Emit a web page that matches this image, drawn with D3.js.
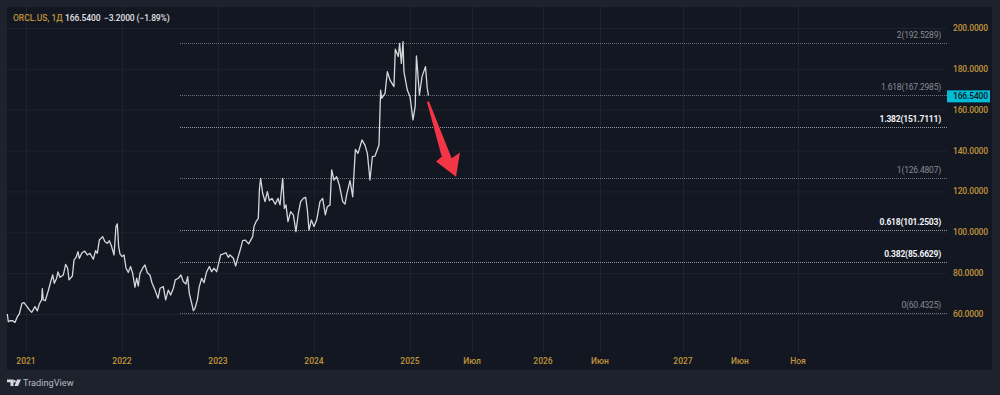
<!DOCTYPE html>
<html><head><meta charset="utf-8">
<script src="https://cdn.jsdelivr.net/npm/d3@7"></script>
<style>html,body{margin:0;padding:0;background:#1e222d;overflow:hidden}svg{display:block}text{font-family:Roboto,"Open Sans",sans-serif}</style>
</head><body><svg id="c" width="1000" height="395"></svg>
<script>
const years = [2020.805,2020.816,2020.833,2020.861,2020.885,2020.91,2020.93,2020.958,2020.979,2021.007,2021.035,2021.059,2021.094,2021.118,2021.139,2021.163,2021.17,2021.18,2021.201,2021.232,2021.257,2021.278,2021.295,2021.319,2021.333,2021.354,2021.389,2021.413,2021.434,2021.448,2021.483,2021.5,2021.521,2021.542,2021.555,2021.58,2021.611,2021.639,2021.666,2021.701,2021.725,2021.743,2021.764,2021.798,2021.823,2021.847,2021.868,2021.892,2021.917,2021.937,2021.951,2021.965,2021.979,2022,2022.021,2022.042,2022.066,2022.09,2022.111,2022.135,2022.153,2022.17,2022.187,2022.215,2022.239,2022.264,2022.291,2022.312,2022.344,2022.375,2022.396,2022.43,2022.455,2022.482,2022.507,2022.535,2022.555,2022.587,2022.614,2022.639,2022.666,2022.684,2022.701,2022.726,2022.743,2022.76,2022.785,2022.805,2022.83,2022.854,2022.882,2022.91,2022.934,2022.958,2022.986,2023.007,2023.028,2023.056,2023.083,2023.108,2023.125,2023.16,2023.184,2023.205,2023.236,2023.257,2023.285,2023.319,2023.361,2023.375,2023.396,2023.42,2023.431,2023.444,2023.465,2023.49,2023.514,2023.535,2023.562,2023.597,2023.625,2023.646,2023.674,2023.691,2023.708,2023.729,2023.757,2023.785,2023.812,2023.837,2023.861,2023.889,2023.913,2023.931,2023.948,2023.972,2024,2024.028,2024.062,2024.09,2024.118,2024.139,2024.167,2024.184,2024.208,2024.236,2024.264,2024.299,2024.323,2024.34,2024.375,2024.403,2024.431,2024.458,2024.5,2024.531,2024.556,2024.583,2024.608,2024.635,2024.677,2024.694,2024.705,2024.74,2024.764,2024.792,2024.833,2024.847,2024.878,2024.892,2024.91,2024.927,2024.937,2024.972,2025,2025.024,2025.042,2025.052,2025.063,2025.076,2025.097,2025.125,2025.139,2025.149];
const closes = [60,56.2,56.7,56.7,55.9,58.7,60,65.2,65.6,63.9,62,60.8,63.6,61.5,64.9,66.9,72.4,66.9,66.5,71.4,75.8,79.1,75,77.5,80.6,78,79.1,84.3,82.4,76.7,78.6,86.4,87.7,90.5,87.2,89.7,90.8,88.9,89.7,86.8,91,89.7,96.2,97.9,95.4,94.6,95.9,93,88.9,102.8,104.1,93,89.4,88.1,88.9,82.4,80.4,83.2,79.9,73.1,77.5,73.7,79.9,82.4,84,80.2,79.1,75.3,71.7,67.7,72.6,73.4,66.9,71.7,69.3,72.6,76.7,77.5,79.1,75.8,74.7,78.3,70.1,65.2,61.6,62.8,66.9,73.4,77.5,75.3,80.7,83.2,80.7,82.4,80.7,84.8,88.9,89.4,90,87.7,88.9,87.3,83.5,87.2,92.1,95.9,96.2,94.3,97.9,102.8,105.2,106.8,120.7,126.4,119.1,115,119.9,115.5,116.6,113.7,116.6,113.4,126.4,111.7,113.4,105.2,110.1,108.5,100.3,109.3,115,116.6,117.1,110.9,101.1,106,102.8,106,115,116.6,108.5,112.5,113.4,130.5,125.6,127.2,123.1,115,113.8,118.3,125.3,117.4,140.6,138.6,145.2,142.7,138.6,125.6,137,137.3,142.7,169.6,165.6,168,178.6,174.5,171.3,189.6,186,192.5,182.7,193.3,178.6,169.6,166.4,155,161.8,186.3,177.8,167.2,176.2,181.1,170.5,166.9];
const priceTicks = [200,180,160,140,120,100,80,60];
const timeTickYears = [2021,2022,2023,2024,2025,2025.5,2026,2026.42,2027,2027.42,2027.83];
const timeTickLabels = ["2021","2022","2023","2024","2025","Июл","2026","Июн","2027","Июн","Ноя"];
const fibRatios = ["2","1.618","1.382","1","0.618","0.382","0"];
const fibPrices = [192.5289,167.2985,151.7111,126.4807,101.2503,85.6629,60.4325];
const fibStrong = [false,false,true,false,true,true,false];
const arrowYears = [2025.137,2025.153,2025.336,2025.403,2025.371,2025.21,2025.256];
const arrowPrices = [163.8,164.1,136.2,139,127.2,134.6,137];
const lastPrice = 166.54;

const svg = d3.select("#c");
const x = d3.scaleLinear().domain([2021,2025,2025.5,2026,2026.42,2027,2027.42,2027.83]).range([26,410,472,543,600,683,740,798]);
const y = d3.scaleLinear().domain([60,200]).range([314,28]);
const gold = "#c0953a";

svg.append("rect").attr("width",1000).attr("height",395).attr("fill","#1e222d");
svg.append("rect").attr("x",7).attr("y",7).attr("width",985).attr("height",363).attr("fill","#131722");

// grid
svg.append("g").selectAll("line").data(priceTicks).join("line")
  .attr("x1",7).attr("x2",947).attr("y1",d=>y(d)+.5).attr("y2",d=>y(d)+.5).attr("stroke","#1e222d");
svg.append("g").selectAll("line").data(timeTickYears).join("line")
  .attr("x1",d=>Math.round(x(d))+.5).attr("x2",d=>Math.round(x(d))+.5).attr("y1",7).attr("y2",352).attr("stroke","#1e222d");

// fib levels
const fibX0 = 180, fibX1 = 947;
svg.append("g").selectAll("line").data(fibPrices).join("line")
  .attr("x1",fibX0).attr("x2",fibX1).attr("y1",d=>Math.round(y(d))+.5).attr("y2",d=>Math.round(y(d))+.5)
  .attr("stroke",(d,i)=>fibStrong[i]?"#94979e":"#6f727a").attr("stroke-dasharray","1 1");
svg.append("g").selectAll("text").data(fibPrices).join("text")
  .attr("x",941).attr("y",d=>y(d)-5).attr("text-anchor","end").attr("font-size",8.5).attr("letter-spacing",-0.2)
  .attr("fill",(d,i)=>fibStrong[i]?"#f0f1f3":"#878a92")
  .attr("font-weight",(d,i)=>fibStrong[i]?700:400)
  .text((d,i)=>`${fibRatios[i]}(${d.toFixed(4)})`);

// price line
const line = d3.line().x((d,i)=>x(years[i])).y(d=>y(d));
svg.append("path").datum(closes).attr("d",line).attr("fill","none").attr("stroke","#d6d7da").attr("stroke-width",1.3).attr("stroke-linejoin","round");

// arrow
svg.append("polygon").attr("fill","#f23645")
  .attr("points",arrowYears.map((t,i)=>[x(t),y(arrowPrices[i])].join(",")).join(" "));

// price axis
const axisFont = 8.5;
svg.append("g").selectAll("text").data(priceTicks).join("text")
  .attr("x",953).attr("y",d=>y(d)+3).attr("font-size",axisFont).attr("letter-spacing",-0.15).attr("font-weight",500).attr("fill",gold).text(d=>d.toFixed(4));

// last price
svg.append("rect").attr("x",947).attr("y",y(lastPrice)-6).attr("width",43).attr("height",12).attr("fill","#00bcd4");
svg.append("text").attr("x",953).attr("y",y(lastPrice)+3).attr("font-size",axisFont).attr("letter-spacing",-0.15).attr("font-weight",500).attr("fill","#131722").text(lastPrice.toFixed(4));

// time axis
svg.append("g").selectAll("text").data(timeTickYears).join("text")
  .attr("x",d=>x(d)).attr("y",364).attr("text-anchor","middle").attr("font-size",axisFont).attr("font-weight",500).attr("fill",gold).text((d,i)=>timeTickLabels[i]);

// header
const h = svg.append("g").attr("font-size",8.5).attr("font-weight",500);
h.append("text").attr("x",13).attr("y",21).attr("fill",gold).text("ORCL.US, 1Д");
h.append("text").attr("x",65).attr("y",21).attr("letter-spacing",-0.1).attr("fill","#e0e1e4").text("166.5400");
h.append("text").attr("x",104).attr("y",21).attr("letter-spacing",-0.1).attr("fill","#e0e1e4").text("−3.2000 (−1.89%)");

// footer logo
svg.append("path").attr("fill","#d6d8dc").attr("d","M7 379.5h6.5v6.5h-3v-3.7h-3.5z M14.5 380a1.3 1.3 0 1 0 .01 0z M17 379.5h4l-3 6.5h-3.5z");
svg.append("text").attr("x",23).attr("y",386).attr("font-size",9.2).attr("fill","#b8bbc2").text("TradingView");
</script></body></html>
